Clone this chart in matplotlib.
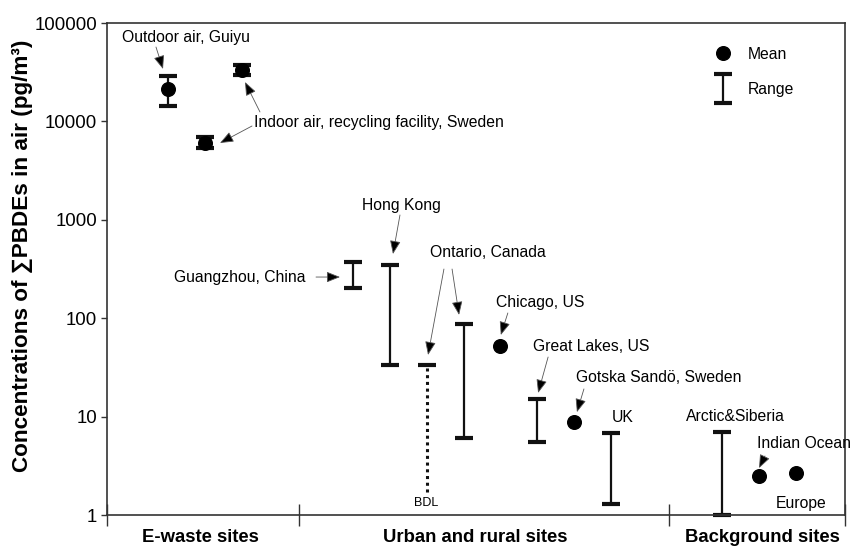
import numpy as np
import matplotlib
matplotlib.use("Agg")
import matplotlib.pyplot as plt
from matplotlib.container import ErrorbarContainer
from matplotlib.legend_handler import HandlerErrorbar
import matplotlib.transforms as mtransforms

plt.rcParams['font.family'] = ['Liberation Sans', 'DejaVu Sans']

# ---- data (pg/m3) ----
sites = ['Outdoor air, Guiyu', 'Indoor air, Sweden a', 'Indoor air, Sweden b',
         'Guangzhou, China', 'Hong Kong', 'Ontario, Canada a', 'Ontario, Canada b',
         'Chicago, US', 'Great Lakes, US', 'Gotska Sandö, Sweden', 'UK',
         'Arctic&Siberia', 'Indian Ocean', 'Europe']
slots = [0, 1, 2, 5, 6, 7, 8, 9, 10, 11, 12, 15, 16, 17]
range_low = [14350, 5370, 29600, 203, 33.5, np.nan, 6.06, np.nan, 5.52, np.nan, 1.29, 1.0, np.nan, np.nan]
range_high = [28900, 6940, 37400, 373, 347, np.nan, 87.3, np.nan, 15.1, np.nan, 6.81, 6.97, np.nan, np.nan]
means = [21300, 6100, 33000, np.nan, np.nan, np.nan, np.nan, 52.2, np.nan, 8.81, np.nan, np.nan, 2.49, 2.67]
bdl_slot = 7
bdl_high = 33.5
bdl_floor = 1.71
groups = ['E-waste sites', 'Urban and rural sites', 'Background sites']
group_centers = [0.87, 8.33, 16.08]
group_edges = [3.55, 13.55]

fig = plt.figure(figsize=(8.51, 5.49), dpi=100)
ax = fig.add_axes([107/851, 1-515/549, 738/851, 492/549])

cap = 6.4
capthick = 3.0
elw = 1.6

x = np.array(slots, dtype=float)
lo = np.array(range_low)
hi = np.array(range_high)
m = np.array(means)

mk = ~np.isnan(m)
mean_line, = ax.plot(x[mk], m[mk], 'o', color='black', ms=9.8, ls='none',
                     label='Mean', clip_on=False, zorder=3)
rk = ~np.isnan(lo)
eb = ax.errorbar(x[rk], lo[rk], yerr=[np.zeros(rk.sum()), (hi - lo)[rk]], fmt='none',
                 ecolor='#111111', elinewidth=elw, capsize=cap, capthick=capthick,
                 label='Range', clip_on=False, zorder=2)
for a in eb.lines[1] + eb.lines[2]:
    a.set_clip_on(False)

# BDL series (lower end below detection limit)
ax.plot([bdl_slot, bdl_slot], [bdl_floor, bdl_high], ls=(0, (1, 1.2)), color='#111111', lw=2.2)
ax.plot([bdl_slot], [bdl_high], marker='_', ms=2*cap, mew=capthick, color='#111111')
ax.text(bdl_slot, 1.32, 'BDL', ha='center', va='center', fontsize=9)

ax.set_yscale('log')
ax.set_ylim(1, 100000)
ax.set_xlim(-1.651, 18.327)
ax.set_yticks([1, 10, 100, 1000, 10000, 100000])
ax.set_yticklabels(['1', '10', '100', '1000', '10000', '100000'])
ax.yaxis.set_minor_locator(matplotlib.ticker.NullLocator())
ax.set_xticks([-1.651] + group_edges + [18.327])
ax.set_xticklabels([])
ax.tick_params(axis='x', direction='inout', length=16, width=1.0, color='#333333')
ax.tick_params(axis='y', direction='out', length=4, width=1.0, labelsize=13.4, pad=3, color='#333333')
for s in ax.spines.values():
    s.set_linewidth(1.2)
    s.set_color('#333333')

trans = mtransforms.blended_transform_factory(ax.transData, ax.transAxes)
for g, c in zip(groups, group_centers):
    ax.text(c, -0.0467, g, transform=trans, ha='center', va='center',
            fontsize=13.3, fontweight='bold')

ax.set_ylabel('Concentrations of ∑PBDEs in air (pg/m³)', fontsize=16.2,
              fontweight='bold', va='center')
ax.yaxis.set_label_coords(-0.115, 0.526)

# annotations
fs = 11.3
aprops = dict(arrowstyle='-|>,head_length=0.75,head_width=0.3', color='#555555',
              lw=0.6, shrinkA=0, shrinkB=0, mutation_scale=11)

def arrow(start, tip):
    ax.annotate('', xy=tip, xytext=start, arrowprops=dict(aprops, fc='black'))

ax.text(-1.245, 70400, 'Outdoor air, Guiyu', fontsize=fs, va='center', ha='left')
arrow((-0.325, 57000), (-0.135, 34100))
ax.text(2.328, 9640, 'Indoor air, recycling facility, Sweden', fontsize=fs, va='center', ha='left')
arrow((2.274, 8980), (1.408, 6030))
arrow((2.49, 12470), (2.085, 25130))
ax.text(5.252, 1413, 'Hong Kong', fontsize=fs, va='center', ha='left')
arrow((6.28, 1119), (6.09, 449))
ax.text(3.736, 262, 'Guangzhou, China', fontsize=fs, va='center', ha='right')
arrow((4.007, 262), (4.656, 262))
ax.text(7.093, 460, 'Ontario, Canada', fontsize=fs, va='center', ha='left')
arrow((7.47, 316), (7.04, 42.3))
arrow((7.69, 316), (7.88, 108))
ax.text(8.88, 143, 'Chicago, US', fontsize=fs, va='center', ha='left')
arrow((9.20, 113), (9.01, 67.5))
ax.text(9.88, 51, 'Great Lakes, US', fontsize=fs, va='center', ha='left')
arrow((10.29, 40.3), (10.02, 17.4))
ax.text(11.04, 24.7, 'Gotska Sandö, Sweden', fontsize=fs, va='center', ha='left')
arrow((11.26, 19.1), (11.07, 11.1))
ax.text(12.02, 9.9, 'UK', fontsize=fs, va='center', ha='left')
ax.text(14.02, 10.1, 'Arctic&Siberia', fontsize=fs, va='center', ha='left')
ax.text(15.94, 5.27, 'Indian Ocean', fontsize=fs, va='center', ha='left')
arrow((16.16, 3.98), (16.0, 3.0))
ax.text(16.46, 1.32, 'Europe', fontsize=fs, va='center', ha='left')

leg = ax.legend(handles=[mean_line, eb], labels=['Mean', 'Range'], loc='upper left',
                bbox_to_anchor=(0.811, 0.968), frameon=False, fontsize=fs,
                borderpad=0, handlelength=1.2, handletextpad=1.0, labelspacing=1.3,
                handler_map={ErrorbarContainer: HandlerErrorbar(xerr_size=0.5, yerr_size=0.9)})

fig.savefig('out.png', dpi=100)
